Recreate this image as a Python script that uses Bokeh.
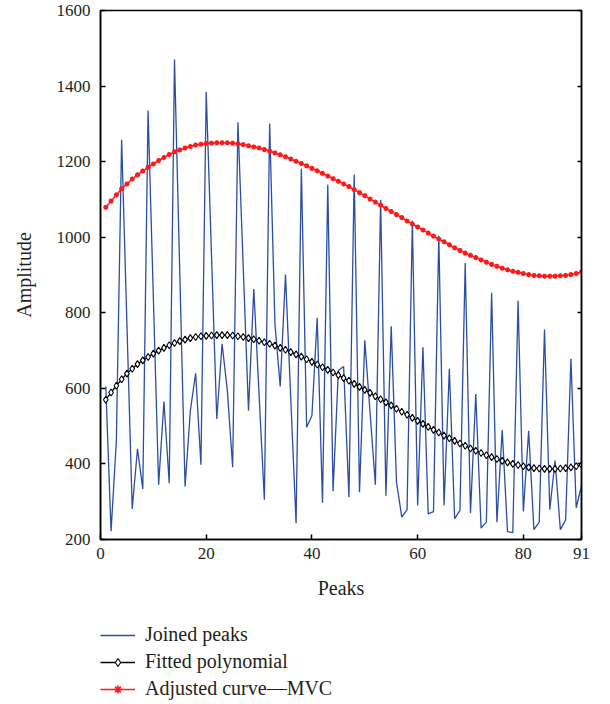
from bokeh.plotting import figure
from bokeh.layouts import column
from bokeh.models import (Range1d, LinearAxis, FixedTicker, Legend, LegendItem,
                          CustomJSTickFormatter)
from bokeh.embed import file_html
from bokeh.resources import INLINE

peaks = list(range(1, 92))

joined_peaks = [
    605, 222, 462, 1258, 770, 281, 440, 334, 1335, 840,
    345, 565, 349, 1470, 905, 340, 541, 640, 398, 1385,
    952, 519, 718, 594, 391, 1304, 922, 541, 863, 584,
    305, 1301, 771, 605, 901, 572, 243, 1181, 497, 528,
    787, 297, 1139, 328, 647, 658, 312, 1166, 325, 727,
    536, 345, 1099, 316, 764, 352, 259, 279, 1044, 290,
    709, 268, 274, 1004, 290, 652, 255, 277, 932, 270,
    585, 230, 246, 853, 246, 490, 221, 218, 832, 274,
    488, 226, 246, 756, 279, 409, 226, 252, 678, 284,
    343,
]

fitted_polynomial = [
    570, 589, 607, 624, 639, 652, 664, 674, 683, 692,
    700, 707, 714, 720, 725, 729, 733, 736, 738, 739,
    740, 741, 741, 741, 740, 738, 736, 733, 730, 726,
    722, 718, 713, 707, 702, 696, 690, 684, 677, 670,
    663, 656, 649, 642, 635, 627, 620, 612, 604, 596,
    588, 579, 571, 563, 555, 546, 538, 530, 522, 514,
    506, 498, 490, 483, 475, 468, 461, 454, 448, 441,
    435, 429, 423, 418, 413, 408, 404, 400, 397, 394,
    391, 389, 388, 387, 387, 387, 388, 389, 391, 394,
    397,
]

adjusted_curve = [
    1079, 1096, 1112, 1128, 1141, 1154, 1165, 1175, 1185, 1194,
    1203, 1211, 1219, 1226, 1231, 1236, 1240, 1244, 1246, 1248,
    1249, 1250, 1250, 1250, 1249, 1247, 1245, 1242, 1239, 1236,
    1232, 1228, 1223, 1218, 1213, 1207, 1201, 1195, 1189, 1182,
    1176, 1169, 1162, 1155, 1148, 1141, 1134, 1126, 1118, 1110,
    1101, 1093, 1085, 1076, 1068, 1060, 1052, 1043, 1035, 1027,
    1019, 1011, 1003, 995, 988, 980, 972, 965, 958, 952,
    946, 940, 934, 928, 923, 918, 914, 910, 907, 904,
    901, 899, 898, 897, 897, 897, 898, 899, 901, 904,
    908,
]

x_ticks = [0, 20, 40, 60, 80, 91]
y_ticks = [200, 400, 600, 800, 1000, 1200, 1400, 1600]
series_labels = ["Joined peaks", "Fitted polynomial", "Adjusted curve\u2014MVC"]

FONT = "Liberation Serif"
TXT = "#231f20"
BLUE = "#2b4ea2"
RED = "#ff1a1a"

# ---------------- main plot ----------------
p = figure(width=610, height=612,
           x_range=Range1d(0, 91), y_range=Range1d(200, 1600),
           output_backend="svg", toolbar_location=None,
           min_border_left=100, min_border_right=29,
           min_border_top=10, min_border_bottom=73)
p.grid.visible = False
p.outline_line_color = "black"
p.outline_line_width = 1.5


def draw_series(fig, xs, b, k, r):
    rb = fig.line(xs, b, line_color=BLUE, line_width=1.3)
    rkl = fig.line(xs, k, line_color="black", line_width=1.3)
    rkm = fig.scatter(xs, k, marker="diamond", size=7,
                      line_color="black", fill_color="white", line_width=1.1)
    rrl = fig.line(xs, r, line_color=RED, line_width=1.5)
    rrm = fig.scatter(xs, r, marker="asterisk", size=5,
                      line_color=RED, line_width=1.6)
    return [[rb], [rkl, rkm], [rrl, rrm]]


draw_series(p, peaks, joined_peaks, fitted_polynomial, adjusted_curve)

for ax in (p.xaxis[0], p.yaxis[0]):
    ax.axis_line_width = 1.5
    ax.axis_line_color = "black"
    ax.major_tick_line_color = "black"
    ax.major_tick_line_width = 1.5
    ax.major_tick_in = 5
    ax.major_tick_out = 0
    ax.minor_tick_line_color = None
    ax.major_label_text_font = FONT
    ax.major_label_text_font_size = "17px"
    ax.major_label_text_color = TXT
    ax.axis_label_text_font = FONT
    ax.axis_label_text_font_size = "20px"
    ax.axis_label_text_font_style = "normal"
    ax.axis_label_text_color = TXT

p.xaxis.ticker = FixedTicker(ticks=x_ticks)
p.yaxis.ticker = FixedTicker(ticks=y_ticks)
p.xaxis.axis_label = "Peaks"
p.yaxis.axis_label = "Amplitude"
p.xaxis.major_label_standoff = 8
p.xaxis.axis_label_standoff = 15
p.yaxis.major_label_standoff = 10
p.yaxis.axis_label_standoff = 19

right = LinearAxis(ticker=FixedTicker(ticks=y_ticks),
                   formatter=CustomJSTickFormatter(code="return ''"),
                   major_label_standoff=0, major_tick_in=4, major_tick_out=0,
                   minor_tick_line_color=None, axis_line_width=1.5,
                   major_tick_line_width=1.5)
p.add_layout(right, "right")

# ---------------- legend strip ----------------
# Same series drawn again, but with ranges that keep every mark off-frame;
# the strip only shows the legend.
lg = figure(width=610, height=92, x_range=Range1d(-2, -1), y_range=Range1d(-2, -1),
            output_backend="svg", toolbar_location=None,
            x_axis_location=None, y_axis_location=None,
            min_border=0, outline_line_color=None)
lg.grid.visible = False
groups = draw_series(lg, peaks, joined_peaks, fitted_polynomial, adjusted_curve)

legend = Legend(items=[LegendItem(label=lab, renderers=g)
                       for lab, g in zip(series_labels, groups)],
                location=(0, 4), padding=0, margin=0, spacing=4,
                glyph_width=35, glyph_height=20, label_height=20, label_standoff=10,
                label_text_font=FONT, label_text_font_size="20px",
                label_text_color=TXT,
                border_line_alpha=0, background_fill_alpha=0)
lg.add_layout(legend)

layout = column(p, lg, spacing=0)
open("out.html", "w").write(file_html(layout, INLINE))
